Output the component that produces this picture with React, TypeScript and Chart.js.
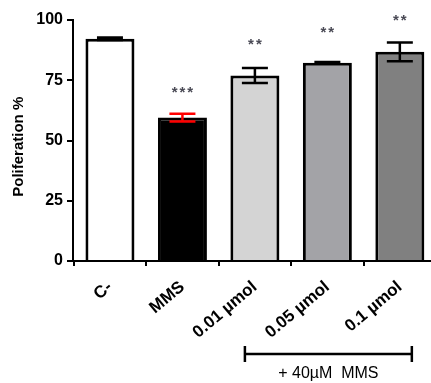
import React, { useEffect, useRef } from "react";
import { Chart, registerables } from "chart.js";

Chart.register(...registerables);

const categories = ["C-", "MMS", "0.01 µmol", "0.05 µmol", "0.1 µmol"];
const means = [92.2, 59.5, 77.0, 82.3, 86.8];
const errors = [0.5, 1.6, 3.1, 0.3, 3.9];
const fills = ["#ffffff", "#000000", "#d4d4d4", "#a3a3a7", "#808080"];
const errorColors = ["#000000", "#ff0000", "#000000", "#000000", "#000000"];
const significance = ["", "***", "**", "**", "**"];
const significanceLevels = [0, 70.8, 90.6, 95.4, 100.4];
const yTicks = [0, 25, 50, 75, 100];
const yTitle = "Poliferation %";
const bracketLabel = "+ 40µM  MMS";
const bracketFrom = 2;
const bracketTo = 4;

const FONT = "'Liberation Sans', Arial, Helvetica, sans-serif";

const overlayPlugin = {
  id: "overlay",
  afterDatasetsDraw(chart: any) {
    const { ctx } = chart;
    const xs = chart.scales.x;
    const ys = chart.scales.y;
    ctx.save();
    // error bars
    means.forEach((m, i) => {
      const x = xs.getPixelForValue(i);
      const yT = ys.getPixelForValue(m + errors[i]);
      const yB = ys.getPixelForValue(m - errors[i]);
      ctx.strokeStyle = errorColors[i];
      ctx.lineWidth = 2.5;
      ctx.beginPath();
      ctx.moveTo(x, yT);
      ctx.lineTo(x, yB);
      ctx.moveTo(x - 13, yT);
      ctx.lineTo(x + 13, yT);
      ctx.moveTo(x - 13, yB);
      ctx.lineTo(x + 13, yB);
      ctx.stroke();
    });
    // significance stars
    ctx.fillStyle = "#4a4a55";
    ctx.font = `bold 15px ${FONT}`;
    ctx.textAlign = "center";
    ctx.textBaseline = "middle";
    try {
      (ctx as any).letterSpacing = "2px";
    } catch (e) {}
    significance.forEach((s, i) => {
      if (!s) return;
      const x = xs.getPixelForValue(i);
      const y = ys.getPixelForValue(significanceLevels[i]) + 2;
      ctx.fillText(s, x + 1, y);
    });
    try {
      (ctx as any).letterSpacing = "0px";
    } catch (e) {}
    // bracket
    const bx0 = xs.getPixelForValue(bracketFrom) - 10;
    const bx1 = xs.getPixelForValue(bracketTo) + 12;
    const by = 354;
    ctx.strokeStyle = "#000";
    ctx.lineWidth = 2.5;
    ctx.beginPath();
    ctx.moveTo(bx0, by);
    ctx.lineTo(bx1, by);
    ctx.moveTo(bx0, by - 8);
    ctx.lineTo(bx0, by + 8);
    ctx.moveTo(bx1, by - 8);
    ctx.lineTo(bx1, by + 8);
    ctx.stroke();
    ctx.fillStyle = "#000";
    ctx.font = `16px ${FONT}`;
    ctx.textAlign = "center";
    ctx.textBaseline = "alphabetic";
    ctx.fillText(bracketLabel, (bx0 + bx1) / 2, 378);
    ctx.restore();
  },
};

export default function App() {
  const ref = useRef<HTMLCanvasElement>(null);
  useEffect(() => {
    if (!ref.current) return;
    const chart = new Chart(ref.current, {
      type: "bar",
      data: {
        datasets: [
          {
            data: categories.map((_, i) => ({ x: i, y: means[i] })),
            backgroundColor: fills,
            borderColor: "#000",
            borderWidth: 3,
            borderSkipped: "start",
            barPercentage: 0.676,
            categoryPercentage: 1,
          } as any,
        ],
      },
      options: {
        animation: false,
        responsive: false,
        devicePixelRatio: 1,
        layout: { padding: { top: 20, right: 0, bottom: 0, left: 0 } },
        plugins: { legend: { display: false }, tooltip: { enabled: false } },
        scales: {
          x: {
            type: "linear",
            min: -0.51,
            max: 4.43,
            offset: false,
            grid: {
              display: true,
              drawOnChartArea: false,
              drawTicks: true,
              tickLength: 5,
              color: "#000",
              lineWidth: 2,
            },
            border: { display: true, color: "#000", width: 2 },
            ticks: {
              stepSize: 1,
              includeBounds: false,
              autoSkip: false,
              minRotation: 40,
              maxRotation: 40,
              padding: 11,
              color: "#000",
              font: { family: FONT, size: 17, weight: "bold" },
              callback: (v: any) => categories[v] ?? "",
            },
            afterFit: (s: any) => {
              s.height = 122;
            },
          } as any,
          y: {
            min: 0,
            max: 100,
            grid: {
              display: true,
              drawOnChartArea: false,
              drawTicks: true,
              tickLength: 6,
              color: "#000",
              lineWidth: 2,
            },
            border: { display: true, color: "#000", width: 2 },
            ticks: {
              stepSize: 25,
              padding: 4,
              color: "#000",
              font: { family: FONT, size: 16, weight: "bold" },
              callback: (v: any) => (yTicks.includes(v) ? String(v) : ""),
            },
            title: {
              display: true,
              text: yTitle + "   ",
              color: "#000",
              font: { family: FONT, size: 15, weight: "bold" },
              padding: { top: 10, bottom: 0 },
            },
            afterFit: (s: any) => {
              s.width = 73;
            },
          } as any,
        },
      },
      plugins: [overlayPlugin],
    });
    return () => chart.destroy();
  }, []);
  return (
    <div style={{ position: "fixed", left: 0, top: 0, width: 431, height: 383, background: "#fff" }}>
      <canvas ref={ref} width={431} height={383} />
    </div>
  );
}
